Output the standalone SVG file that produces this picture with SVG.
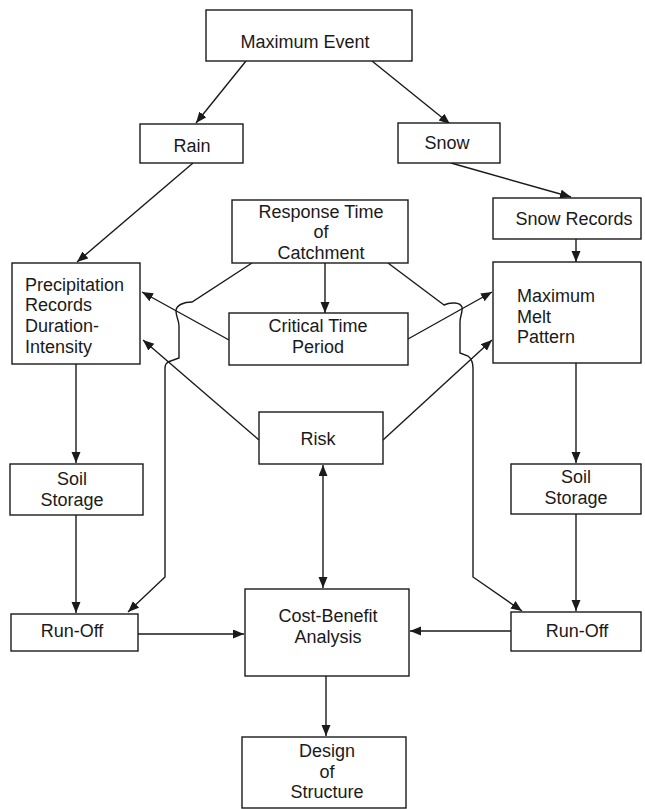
<svg xmlns="http://www.w3.org/2000/svg" width="645" height="809" viewBox="0 0 645 809">
<style>
.box{fill:#fff;stroke:#1a1a1a;stroke-width:1.4}
.t{font-family:"Liberation Sans",Arial,sans-serif;font-size:18px;fill:#1a1a1a}
.c{text-anchor:middle}
.e{fill:none;stroke:#1a1a1a;stroke-width:1.4}
.a{marker-end:url(#ah)}
.b{marker-start:url(#ah);marker-end:url(#ah)}
</style>
<defs>
<marker id="ah" markerUnits="userSpaceOnUse" markerWidth="12" markerHeight="10" refX="11" refY="4.5" orient="auto-start-reverse" viewBox="0 0 12 10">
<path d="M0,0 L11,4.5 L0,9 z" fill="#1a1a1a"/>
</marker>
</defs>
<rect width="645" height="809" fill="#fff"/>
<g id="connectors">
<path class="e a" d="M246,61 L196,123"/>
<path class="e a" d="M372,61 L450,124"/>
<path class="e a" d="M193,163 L77,262"/>
<path class="e a" d="M451,163 L571,197"/>
<path class="e a" d="M576,239 L576,262"/>
<path class="e a" d="M325,263 L325,313"/>
<path class="e a" d="M229,340 L142,292"/>
<path class="e a" d="M259,440 L143,340"/>
<path class="e a" d="M408,339 L492,292"/>
<path class="e a" d="M383,440 L492,340"/>
<path class="e a" d="M252,263 L192,302 C184,302 176,305 176,311 C176,317 179,320 179,326 L179,358 L168,362 Q165,364 165,368 L165,577 L128,612"/>
<path class="e a" d="M388,263 L444,305 C450,302 460,302 462,307 C463,312 460,316 460,322 L460,353 L468,356 Q473,360 473,368 L473,577 L522,611"/>
<path class="e a" d="M76,364 L76,463"/>
<path class="e a" d="M76,515 L76,613"/>
<path class="e a" d="M576,363 L576,463"/>
<path class="e a" d="M576,514 L576,611"/>
<path class="e a" d="M138,634 L244,634"/>
<path class="e a" d="M511,631 L410,631"/>
<path class="e b" d="M323,465 L323,588"/>
<path class="e a" d="M326,676 L326,736"/>
</g>
<g id="maximum-event"><rect class="box" x="206" y="10" width="206" height="51"/><text class="t c" x="305" y="48">Maximum Event</text></g>
<g id="rain"><rect class="box" x="140" y="124" width="103" height="39"/><text class="t c" x="192" y="152">Rain</text></g>
<g id="snow"><rect class="box" x="398" y="123" width="102" height="40"/><text class="t c" x="447" y="149">Snow</text></g>
<g id="snow-records"><rect class="box" x="493" y="198" width="148" height="41"/><text class="t c" x="574" y="225">Snow Records</text></g>
<g id="response-time"><rect class="box" x="232" y="200" width="176" height="63"/><text class="t c" x="321" y="218">Response Time</text><text class="t c" x="321" y="238">of</text><text class="t c" x="321" y="259">Catchment</text></g>
<g id="precipitation"><rect class="box" x="12" y="263" width="128" height="101"/><text class="t" x="25" y="291">Precipitation</text><text class="t" x="25" y="311">Records</text><text class="t" x="25" y="332">Duration-</text><text class="t" x="25" y="353">Intensity</text></g>
<g id="critical-time"><rect class="box" x="229" y="313" width="179" height="52"/><text class="t c" x="318" y="332">Critical Time</text><text class="t c" x="318" y="353">Period</text></g>
<g id="maximum-melt"><rect class="box" x="493" y="262" width="148" height="101"/><text class="t" x="517" y="302">Maximum</text><text class="t" x="517" y="323">Melt</text><text class="t" x="517" y="343">Pattern</text></g>
<g id="risk"><rect class="box" x="259" y="412" width="124" height="52"/><text class="t c" x="318" y="445">Risk</text></g>
<g id="soil-storage-left"><rect class="box" x="10" y="464" width="133" height="51"/><text class="t c" x="72" y="485">Soil</text><text class="t c" x="72" y="506">Storage</text></g>
<g id="soil-storage-right"><rect class="box" x="511" y="464" width="130" height="50"/><text class="t c" x="576" y="483">Soil</text><text class="t c" x="576" y="504">Storage</text></g>
<g id="run-off-left"><rect class="box" x="11" y="614" width="127" height="37"/><text class="t c" x="72" y="637">Run-Off</text></g>
<g id="run-off-right"><rect class="box" x="511" y="612" width="130" height="39"/><text class="t c" x="577" y="637">Run-Off</text></g>
<g id="cost-benefit"><rect class="box" x="245" y="589" width="164" height="87"/><text class="t c" x="328" y="622">Cost-Benefit</text><text class="t c" x="328" y="643">Analysis</text></g>
<g id="design"><rect class="box" x="242" y="737" width="164" height="71"/><text class="t c" x="327" y="757">Design</text><text class="t c" x="327" y="778">of</text><text class="t c" x="327" y="798">Structure</text></g>
</svg>
